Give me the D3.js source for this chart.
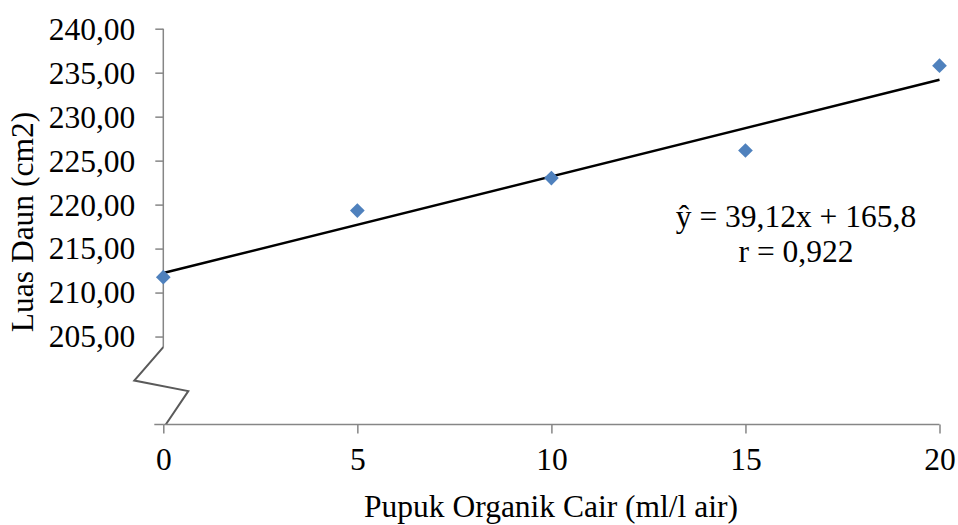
<!DOCTYPE html>
<html>
<head>
<meta charset="utf-8">
<script src="https://cdn.jsdelivr.net/npm/d3@7/dist/d3.min.js"></script>
<style>
  html, body { margin: 0; padding: 0; background: #fff; }
  svg { display: block; }
</style>
</head>
<body>
<svg id="chart" width="958" height="525"></svg>
<script>
// ---- data ----
const doses = [0, 5, 10, 15, 20];
const leafArea = [211.75, 219.32, 223.02, 226.15, 235.80];
const xTicks = [0, 5, 10, 15, 20];
const yTicks = [205, 210, 215, 220, 225, 230, 235, 240];
const equationLines = ["ŷ = 39,12x + 165,8", "r = 0,922"];
const xTitle = "Pupuk Organik Cair (ml/l air)";
const yTitle = "Luas Daun (cm2)";

// ---- setup ----
const svg = d3.select("#chart");
const FONT = '"Liberation Serif", "Times New Roman", serif';
const fontSize = 31.5;
const axisColor = "#868686";

const x = d3.scaleLinear().domain([0, 20]).range([163.3, 939.5]);
const y = d3.scaleLinear().domain([195, 240]).range([424.5, 28.7]);

const fmt = v => d3.format(".2f")(v).replace(".", ",");

// ---- Y axis ----
const yAxis = d3.axisLeft(y).tickValues(yTicks).tickSize(8).tickPadding(20).tickFormat(fmt);
const gy = svg.append("g").attr("transform", `translate(${x(0)},0)`).call(yAxis)
  .attr("font-family", null).attr("font-size", null);
gy.select(".domain").remove();
gy.selectAll(".tick line").attr("stroke", axisColor).attr("stroke-width", 1.5);
gy.selectAll(".tick text").attr("font-size", fontSize).attr("dy", "0.33em")
  .attr("fill", "#000").style("font-family", FONT);

// axis line down to the break
svg.append("line")
  .attr("x1", x(0)).attr("x2", x(0))
  .attr("y1", y(240)).attr("y2", y(203.8))
  .attr("stroke", axisColor).attr("stroke-width", 1.5);

// bottom tick at the base of the axis
svg.append("line")
  .attr("x1", x(0) - 9).attr("x2", x(0))
  .attr("y1", y(195)).attr("y2", y(195))
  .attr("stroke", axisColor).attr("stroke-width", 1.5);

// axis break zigzag
const brk = [
  [x(0), y(203.8)],
  [x(0) - 29, y(200.0)],
  [x(0) + 25, y(198.8)],
  [x(0) + 2.5, y(195)]
];
svg.append("path")
  .attr("d", d3.line()(brk))
  .attr("fill", "none")
  .attr("stroke", "#5a5a5a")
  .attr("stroke-width", 2);

// ---- X axis ----
const xAxis = d3.axisBottom(x).tickValues(xTicks).tickSize(9).tickPadding(14).tickFormat(d3.format("d"));
const gx = svg.append("g").attr("transform", `translate(0,${y(195)})`).call(xAxis)
  .attr("font-family", null).attr("font-size", null);
gx.select(".domain").attr("stroke", axisColor).attr("stroke-width", 1.5)
  .attr("d", `M${x(0)},0H${x(20)}`);
gx.selectAll(".tick line").attr("stroke", axisColor).attr("stroke-width", 1.5);
gx.selectAll(".tick text").attr("font-size", fontSize).attr("dy", "0.71em")
  .attr("fill", "#000").style("font-family", FONT);

// ---- trendline (least squares fit of the points) ----
const mx = d3.mean(doses), my = d3.mean(leafArea);
const slope = d3.sum(doses.map((d, i) => (d - mx) * (leafArea[i] - my))) /
              d3.sum(doses.map(d => (d - mx) ** 2));
const intercept = my - slope * mx;
svg.append("line")
  .attr("x1", x(0)).attr("y1", y(intercept))
  .attr("x2", x(20)).attr("y2", y(intercept + slope * 20))
  .attr("stroke", "#000").attr("stroke-width", 2.5);

// ---- points ----
const diamond = d3.symbol().type(d3.symbolSquare).size(108);
svg.append("g").selectAll("path")
  .data(doses.map((d, i) => [d, leafArea[i]]))
  .join("path")
  .attr("d", diamond)
  .attr("transform", d => `translate(${x(d[0])},${y(d[1])}) rotate(45)`)
  .attr("fill", "#4F81BD");

// ---- equation text ----
svg.append("text")
  .attr("x", 796).attr("y", 226.5)
  .attr("text-anchor", "middle").attr("font-size", fontSize)
  .style("font-family", FONT)
  .text(equationLines[0]);
svg.append("text")
  .attr("x", 796).attr("y", 261.5)
  .attr("text-anchor", "middle").attr("font-size", fontSize)
  .style("font-family", FONT)
  .text(equationLines[1]);

// ---- axis titles ----
svg.append("text")
  .attr("x", 551).attr("y", 516.5)
  .attr("text-anchor", "middle").attr("font-size", fontSize)
  .style("font-family", FONT)
  .text(xTitle);
svg.append("text")
  .attr("transform", "translate(33,222) rotate(-90)")
  .attr("text-anchor", "middle").attr("font-size", fontSize)
  .style("font-family", FONT)
  .text(yTitle);
</script>
</body>
</html>
